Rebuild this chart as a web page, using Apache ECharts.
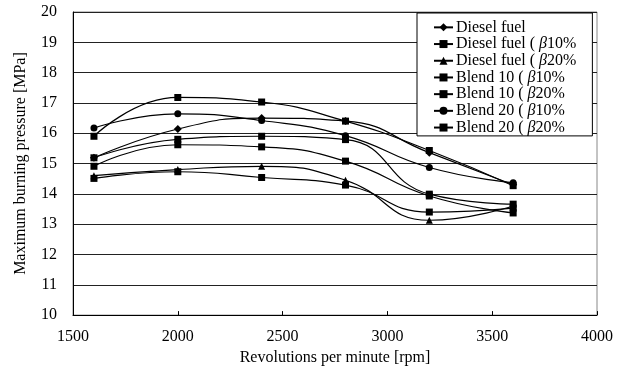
<!DOCTYPE html>
<html>
<head>
<meta charset="utf-8">
<script src="https://cdn.jsdelivr.net/npm/echarts@6/dist/echarts.min.js"></script>
<style>
  html, body { margin: 0; padding: 0; background: #fff; }
  #chart { width: 629px; height: 371px; }
</style>
</head>
<body>
<div id="chart"></div>
<script>
// engine speed (rpm) where pressure was measured
var rpm = [1600, 2000, 2400, 2800, 3200, 3600];

// maximum burning pressure [MPa]
var dieselFuel = [15.19, 16.14, 16.5, 16.4, 15.36, 14.3];
var dieselB10 = [14.51, 14.73, 14.54, 14.29, 13.4, 13.53];
var dieselB20 = [14.6, 14.8, 14.91, 14.45, 13.13, 13.6];
var blend10B10 = [15.19, 15.8, 15.9, 15.79, 13.99, 13.66];
var blend10B20 = [14.91, 15.62, 15.55, 15.08, 13.93, 13.37];
var blend20B10 = [16.17, 16.64, 16.42, 15.92, 14.87, 14.37];
var blend20B20 = [15.9, 17.18, 17.03, 16.4, 15.43, 14.27];

var names = ['Diesel fuel', 'Diesel fuel ( \u03b210%', 'Diesel fuel ( \u03b220%',
  'Blend 10 ( \u03b210%', 'Blend 10 ( \u03b220%', 'Blend 20 ( \u03b210%', 'Blend 20 ( \u03b220%'];
var values = [dieselFuel, dieselB10, dieselB20, blend10B10, blend10B20, blend20B10, blend20B20];
var symbols = ['diamond', 'rect', 'triangle', 'rect', 'rect', 'circle', 'rect'];

var font = '"Liberation Serif", "DejaVu Serif", serif';

function pairs(arr) {
  var out = [];
  for (var i = 0; i < rpm.length; i++) {
    out.push([rpm[i], arr[i]]);
  }
  return out;
}

var series = [];
for (var i = 0; i < names.length; i++) {
  series.push({
    name: names[i],
    type: 'line',
    smooth: 0.5,
    symbol: symbols[i],
    symbolSize: symbols[i] == 'diamond' ? 8 : 7,
    showAllSymbol: true,
    lineStyle: { color: '#000', width: 1.2 },
    itemStyle: { color: '#000' },
    data: pairs(values[i])
  });
}

var chart = echarts.init(document.getElementById('chart'));
chart.setOption({
  animation: false,
  backgroundColor: '#fff',
  textStyle: { fontFamily: font },
  grid: {
    left: 73, right: 32, top: 12, bottom: 53,
    show: true, borderColor: '#888', borderWidth: 1
  },
  legend: {
    orient: 'vertical',
    left: 417,
    top: 13,
    padding: [6, 16, 0, 16],
    itemWidth: 19,
    itemHeight: 10,
    itemGap: 0,
    backgroundColor: '#fff',
    borderColor: '#000',
    borderWidth: 1,
    formatter: function (name) {
      return name.replace('\u03b2', '{b|\u03b2}');
    },
    textStyle: {
      fontFamily: font, fontSize: 16, color: '#000', lineHeight: 16.7,
      padding: [0, 0, 0, -2],
      rich: {
        b: { fontFamily: font, fontSize: 16, fontStyle: 'italic', color: '#000', lineHeight: 16.7 }
      }
    },
    data: names
  },
  xAxis: {
    type: 'value',
    min: 1500, max: 4000, interval: 500,
    name: 'Revolutions per minute [rpm]',
    nameLocation: 'middle',
    nameGap: 32,
    nameTextStyle: { fontFamily: font, fontSize: 16, color: '#000' },
    axisLine: { lineStyle: { color: '#000', width: 1 } },
    axisTick: { inside: true, length: 4, lineStyle: { color: '#000' } },
    axisLabel: {
      fontFamily: font, fontSize: 16, color: '#000', margin: 14,
      formatter: function (v) { return String(v); }
    },
    splitLine: { show: false }
  },
  yAxis: {
    type: 'value',
    min: 10, max: 20, interval: 1,
    name: 'Maximum burning pressure [MPa]',
    nameLocation: 'middle',
    nameGap: 44,
    nameTextStyle: { fontFamily: font, fontSize: 16, color: '#000' },
    axisLine: { show: true, lineStyle: { color: '#000', width: 1 } },
    axisTick: { show: false },
    axisLabel: { fontFamily: font, fontSize: 16, color: '#000', margin: 16 },
    splitLine: { lineStyle: { color: '#222', width: 1 } }
  },
  series: series
});
</script>
</body>
</html>
